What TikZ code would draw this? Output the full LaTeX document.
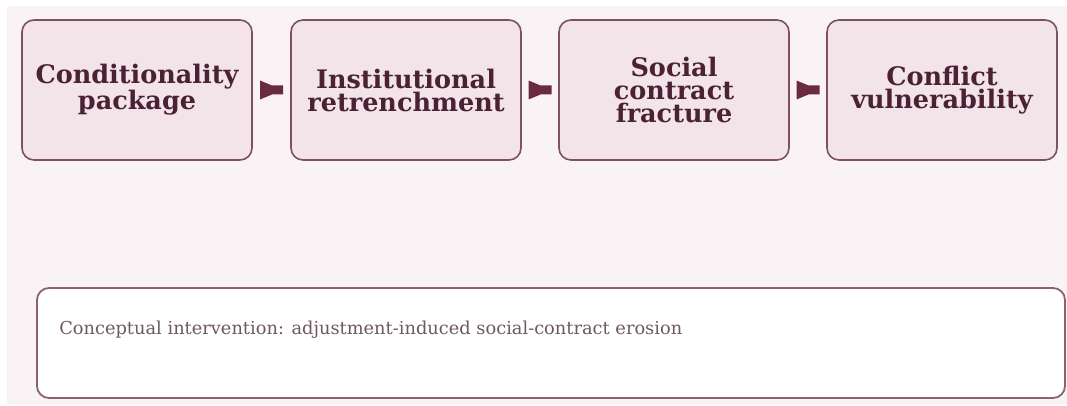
\documentclass[tikz,border=0pt]{standalone}
\usepackage{fontspec}
\setmainfont{DejaVu Serif}
\usetikzlibrary{calc}
\definecolor{bgc}{HTML}{FAF3F5}
\definecolor{boxfill}{HTML}{F2E4E9}
\definecolor{boxline}{HTML}{7E5065}
\definecolor{txtc}{HTML}{4A2233}
\definecolor{arrc}{HTML}{6A2A42}
\definecolor{notec}{HTML}{6E5862}
\definecolor{noteline}{HTML}{8C6272}
\tikzset{
  stagebox/.style={draw=boxline, line width=1.6pt, fill=boxfill, rounded corners=12pt,
    minimum width=230pt, minimum height=140pt, align=center, text=txtc,
    font=\fontsize{25.5}{23}\selectfont\bfseries, inner sep=0pt},
  notebox/.style={draw=noteline, line width=1.8pt, fill=white, rounded corners=12pt,
    minimum width=1028pt, minimum height=110pt, inner sep=0pt},
  funnel/.pic={\fill[arrc] (-11.5,-9.5) -- (0.5,-4.5) -- (11.5,-4.5) -- (11.5,4.5) -- (0.5,4.5) -- (-11.5,9.5) -- cycle;}
}
\begin{document}
\begin{tikzpicture}[x=1pt,y=-1pt]
\useasboundingbox (0,0) rectangle (1067,406);
\fill[bgc] (7,6) rectangle (1067,404);
\node[stagebox] (b1) at (137,90) {Conditionality\\package};
\node[stagebox] (b2) at (406,90) {Institutional\\retrenchment};
\node[stagebox] (b3) at (674,90) {Social\\contract\\fracture};
\node[stagebox] (b4) at (942,90) {Conflict\\vulnerability};
\path (b1.east) -- coordinate[pos=.5] (m1) (b2.west);
\path (b2.east) -- coordinate[pos=.5] (m2) (b3.west);
\path (b3.east) -- coordinate[pos=.5] (m3) (b4.west);
\pic at (m1) {funnel};
\pic at (m2) {funnel};
\pic at (m3) {funnel};
\node[notebox] (note) at (551,343) {};
\node[anchor=west, text=notec, font=\fontsize{17.8}{20}\selectfont, inner sep=0pt] (notetext) at ($(note.west)+(23,-13)$) {Conceptual intervention: adjustment-induced social-contract erosion};
\end{tikzpicture}
\end{document}
